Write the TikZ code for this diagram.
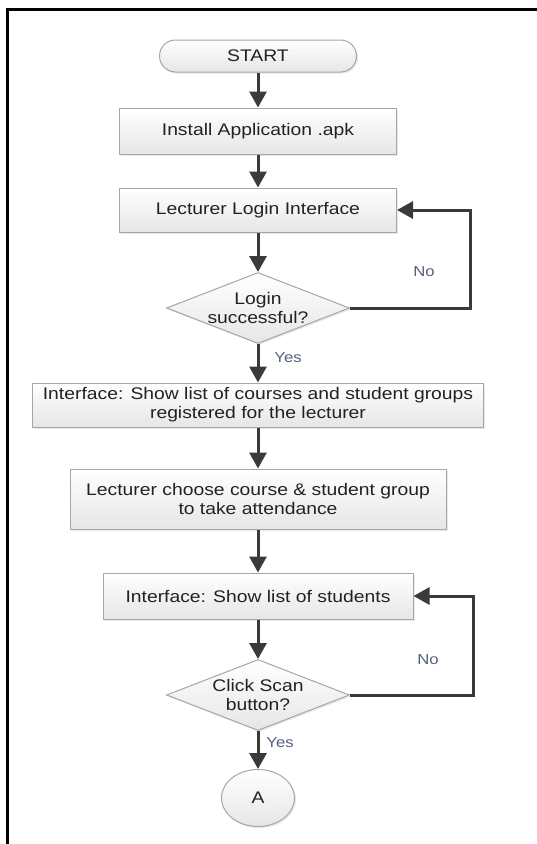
\documentclass[tikz,border=0pt]{standalone}
\usepackage{fontspec}
\setmainfont{Liberation Sans}[FakeStretch=1.15]
\usetikzlibrary{shapes.geometric,arrows.meta,shadows}
\definecolor{boxline}{HTML}{A6A6A6}
\definecolor{boxfill}{HTML}{E6E6E6}
\definecolor{arrowc}{HTML}{3A3A3A}
\definecolor{textc}{HTML}{222222}
\definecolor{labelc}{HTML}{55627E}
\tikzset{
  base/.style={draw=boxline, line width=1pt, top color=white, bottom color=boxfill,
    text=textc, font=\fontsize{16.8}{19}\selectfont, align=center, inner sep=0pt,
    drop shadow={shadow xshift=1.5pt, shadow yshift=-1.5pt, opacity=0.18}},
  stepbox/.style={base, rectangle},
  termbox/.style={base, rectangle, rounded corners=16pt},
  decision/.style={base, diamond, minimum width=183pt, minimum height=71pt},
  connector/.style={base, ellipse, minimum width=73pt, minimum height=57pt},
  flow/.style={draw=arrowc, line width=3pt, -{Triangle[width=17pt,length=16pt]}},
  answer/.style={text=labelc, font=\fontsize{14.5}{16}\selectfont, inner sep=0pt},
}
\begin{document}
\begin{tikzpicture}[x=1pt, y=-1pt]
  \useasboundingbox (0,0) rectangle (537,844);
  \fill[white] (0,0) rectangle (537,844);
  % page frame
  \draw[black, line width=3pt] (7,846) -- (7,9) -- (540,9);

  % steps
  \node[termbox, minimum width=197pt, minimum height=32pt] (start) at (258,56) {START};
  \node[stepbox, minimum width=277pt, minimum height=46pt] (install) at (258,131) {Install Application .apk};
  \node[stepbox, minimum width=277pt, minimum height=44pt] (login) at (258,210) {Lecturer Login Interface};
  \node[decision, label={[align=center, text=textc, font=\fontsize{16.8}{19}\selectfont]center:Login\\successful?}] (ok) at (258,308) {};
  \node[stepbox, minimum width=451pt, minimum height=44pt] (courses) at (258,405)
    {Interface: Show list of courses and student groups\\registered for the lecturer};
  \node[stepbox, minimum width=376pt, minimum height=60pt] (choose) at (258,499)
    {Lecturer choose course \& student group\\to take attendance};
  \node[stepbox, minimum width=310pt, minimum height=46pt] (students) at (258,596) {Interface: Show list of students};
  \node[decision, label={[align=center, text=textc, font=\fontsize{16.8}{19}\selectfont]center:Click Scan\\button?}] (scan) at (258,695) {};
  \node[connector] (a) at (258,798) {A};

  % loop-back corners
  \coordinate (loop1) at (470,308);
  \coordinate (loop2) at (473,695);

  % connectors
  \draw[flow] (start) -- (install);
  \draw[flow] (install) -- (login);
  \draw[flow] (login) -- (ok);
  \draw[flow] (ok) -- (courses);
  \draw[flow] (courses) -- (choose);
  \draw[flow] (choose) -- (students);
  \draw[flow] (students) -- (scan);
  \draw[flow] (scan) -- (a);
  \draw[flow] (ok.east) -- (loop1) |- (login.east);
  \draw[flow] (scan.east) -- (loop2) |- (students.east);

  % answers
  \node[answer] (no1) at (424,272) {No};
  \node[answer] (yes1) at (288,358) {Yes};
  \node[answer] (no2) at (428,660) {No};
  \node[answer] (yes2) at (280,743) {Yes};
\end{tikzpicture}
\end{document}
